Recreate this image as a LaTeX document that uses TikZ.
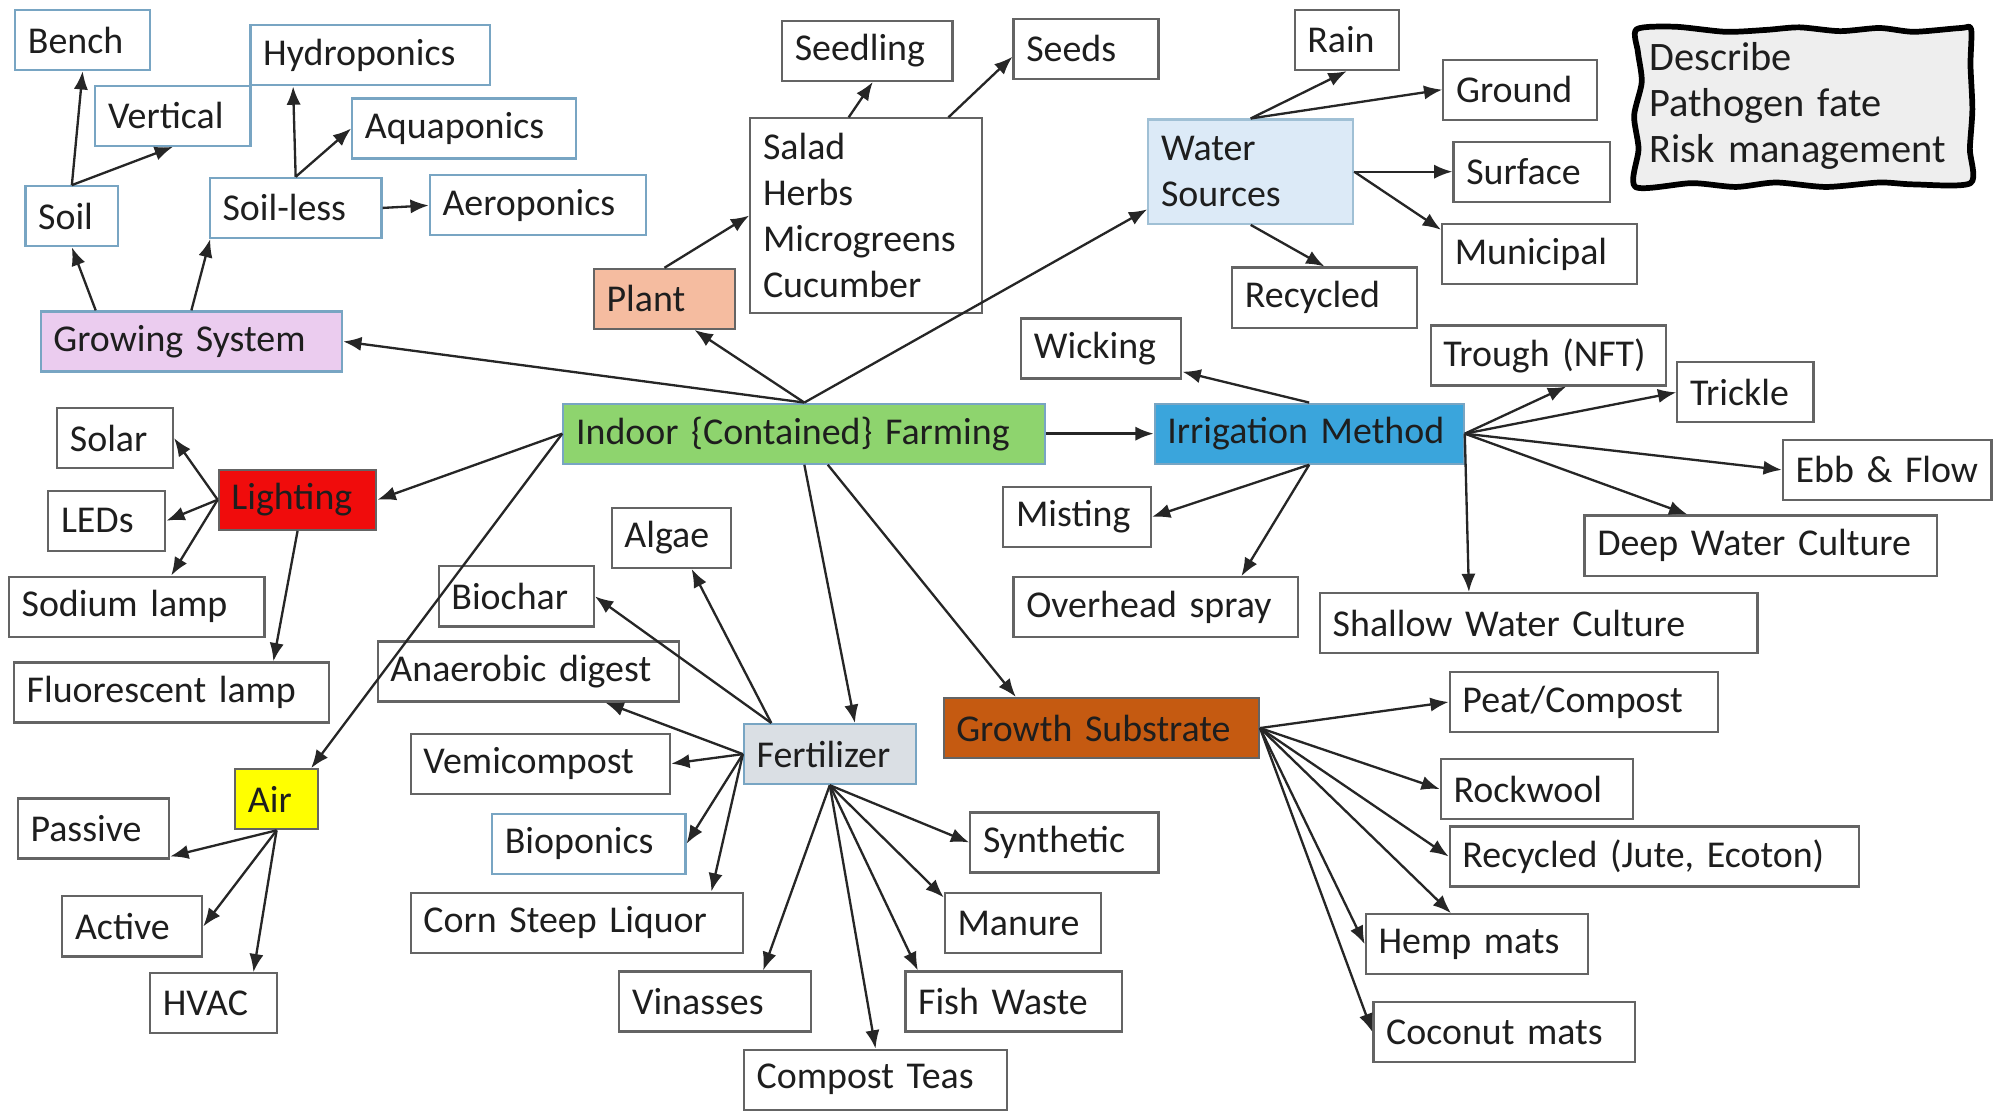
\documentclass[tikz,border=0pt]{standalone}
\usepackage{fontspec}
\setmainfont{Carlito}
\usepackage{tikz}
\usetikzlibrary{arrows.meta,backgrounds}
\definecolor{indoorGreen}{RGB}{142,212,110}
\definecolor{irrigBlue}{RGB}{58,165,220}
\definecolor{growPink}{RGB}{235,204,239}
\definecolor{plantSalmon}{RGB}{245,188,160}
\definecolor{waterBlue}{RGB}{220,234,247}
\definecolor{lightRed}{RGB}{240,12,12}
\definecolor{airYellow}{RGB}{255,255,0}
\definecolor{fertGray}{RGB}{218,223,228}
\definecolor{substrateBrown}{RGB}{197,90,17}
\definecolor{descGray}{RGB}{238,238,238}
\definecolor{edgeGray}{RGB}{100,100,100}
\definecolor{edgeBlue}{RGB}{120,165,195}
\definecolor{textDark}{RGB}{30,30,30}

\begin{document}
\begin{tikzpicture}[x=0.125mm, y=-0.125mm, font=\fontsize{10.6}{12.9}\selectfont, text=textDark,
  bx/.style={draw=edgeGray, line width=0.6pt, fill=white, minimum height=5.9mm, inner xsep=1.25mm, inner ysep=0.3mm, align=left, text width=#1*0.125mm-2.5mm},
  bbx/.style={bx=#1, draw=edgeBlue},
  arr/.style={-{Latex[length=1.8mm,width=1.4mm]}, line width=0.65pt, black!85}]

\useasboundingbox (0,0) rectangle (1568,874);

\node[bbx=106] (bench) at (65,31.5) {Bench};
\node[bbx=188] (hydro) at (291,43.5) {Hydroponics};
\node[bbx=122] (vert) at (136,91) {Vertical};
\node[bbx=176] (aqua) at (365,101) {Aquaponics};
\node[bbx=73] (soil) at (56.5,170) {Soil};
\node[bbx=135] (soilless) at (232.5,163.5) {Soil-less};
\node[bbx=170] (aero) at (423,161.5) {Aeroponics};
\node[bbx=237, fill=growPink] (growsys) at (150.5,268.5) {Growing System};

\node[bx=111, fill=plantSalmon] (plant) at (522.5,235) {Plant};
\node[bx=182, minimum height=19.1mm] (crops) at (681,169.5) {Salad\\Herbs\\Microgreens\\Cucumber};
\node[bx=134] (seedling) at (682,40) {Seedling};
\node[bx=114] (seeds) at (854,38.5) {Seeds};

\node[bx=161, minimum height=10.25mm, fill=waterBlue, draw=edgeBlue!70] (water) at (983.5,135) {Water\\Sources};
\node[bx=82] (rain) at (1059,31.5) {Rain};
\node[bx=121] (ground) at (1195.5,70.5) {Ground};
\node[bx=123] (surface) at (1204.5,135) {Surface};
\node[bx=153] (municipal) at (1210.5,200) {Municipal};
\node[bx=145] (recyc) at (1041.5,234) {Recycled};

\node[bx=261, minimum height=15.4mm, draw=none, fill=none, font=\fontsize{11.3}{12.9}\selectfont] (describe) at (1417.5,83.5) {Describe\\Pathogen fate\\Risk management};
\begin{scope}[on background layer]
\draw[line width=1.6pt, fill=descGray, line join=round] plot[smooth cycle, tension=0.45] coordinates {(1287,23) (1317,21) (1357,25) (1389,23.5) (1415,21.5) (1447,24.5) (1478,22) (1505,25) (1542,22) (1550,23) (1549.5,51) (1551,86) (1549,117) (1549.5,144) (1505,145) (1478,143.5) (1436,147) (1396.5,143.5) (1365,147) (1330.5,144) (1286,147) (1288.5,117) (1285,91) (1291,64.5) (1288,41)};
\end{scope}

\node[bx=379, fill=indoorGreen, draw=edgeBlue] (indoor) at (632.5,341) {Indoor \{Contained\} Farming};
\node[bx=243, fill=irrigBlue, draw=edgeBlue] (irrig) at (1029.5,341) {Irrigation Method};
\node[bx=126] (wicking) at (866,274) {Wicking};
\node[bx=185] (trough) at (1217.5,279.5) {Trough (NFT)};
\node[bx=107] (trickle) at (1372.5,308.5) {Trickle};
\node[bx=164] (ebb) at (1484,369.5) {Ebb \& Flow};
\node[bx=277] (deep) at (1384.5,429) {Deep Water Culture};
\node[bx=344] (shallow) at (1210,490) {Shallow Water Culture};
\node[bx=116] (misting) at (847,406.5) {Misting};
\node[bx=224] (overhead) at (909,477.5) {Overhead spray};

\node[bx=91] (solar) at (90.5,344.5) {Solar};
\node[bx=124, fill=lightRed] (lighting) at (234,393) {Lighting};
\node[bx=92] (leds) at (84,409.5) {LEDs};
\node[bx=201] (sodium) at (107.5,477) {Sodium lamp};
\node[bx=248] (fluor) at (135,544.5) {Fluorescent lamp};
\node[bx=65, fill=airYellow] (air) at (217.5,628.5) {Air};
\node[bx=119] (passive) at (73.5,651.5) {Passive};
\node[bx=110] (active) at (104,728.5) {Active};
\node[bx=100] (hvac) at (168,789) {HVAC};

\node[bx=94] (algae) at (528,423) {Algae};
\node[bx=122] (biochar) at (406,469) {Biochar};
\node[bx=237] (anaer) at (415.5,528) {Anaerobic digest};
\node[bx=204] (vemi) at (425,600.5) {Vemicompost};
\node[bx=135, fill=fertGray, draw=edgeBlue] (fert) at (652.5,593) {Fertilizer};
\node[bbx=152] (biop) at (463,663.5) {Bioponics};
\node[bx=261] (corn) at (453.5,725.5) {Corn Steep Liquor};
\node[bx=148] (synth) at (837,662.5) {Synthetic};
\node[bx=123] (manure) at (804.5,726) {Manure};
\node[bx=151] (vinasses) at (562.5,787.5) {Vinasses};
\node[bx=170] (fish) at (797,787.5) {Fish Waste};
\node[bx=207] (teas) at (688.5,849) {Compost Teas};

\node[bx=248, fill=substrateBrown] (growth) at (866,572.5) {Growth Substrate};
\node[bx=211] (peat) at (1245.5,552) {Peat/Compost};
\node[bx=151] (rock) at (1208.5,620.5) {Rockwool};
\node[bx=322] (recjute) at (1301,673.5) {Recycled (Jute, Ecoton)};
\node[bx=175] (hemp) at (1161.5,742.5) {Hemp mats};
\node[bx=206] (coconut) at (1183,811.5) {Coconut mats};

\draw[arr] (indoor.north) -- (growsys.east);
\draw[arr] (indoor.north) -- (plant.-46);
\draw[arr] (indoor.north) -- (water.200);
\draw[arr] (indoor.east) -- (irrig.west);
\draw[arr] (indoor.west) -- (lighting.east);
\draw[arr] (indoor.west) -- (air.42);
\draw[arr] (indoor.south) -- (fert.51);
\draw[arr] (indoor.-53) -- (growth.160);

\draw[arr] (growsys.162) -- (soil.south);
\draw[arr] (growsys.north) -- (soilless.200);
\draw[arr] (soil.north) -- (bench.south);
\draw[arr] (soil.north) -- (vert.south);
\draw[arr] (soilless.north) -- (hydro.202);
\draw[arr] (soilless.north) -- (aqua.west);
\draw[arr] (soilless.east) -- (aero.west);

\draw[arr] (plant.north) -- (crops.west);
\draw[arr] (crops.100) -- (seedling.-80);
\draw[arr] (crops.50) -- (seeds.186);

\draw[arr] (water.north) -- (rain.south);
\draw[arr] (water.north) -- (ground.west);
\draw[arr] (water.east) -- (surface.west);
\draw[arr] (water.east) -- (municipal.166);
\draw[arr] (water.south) -- (recyc.north);

\draw[arr] (irrig.north) -- (wicking.-16);
\draw[arr] (irrig.east) -- (trough.-60);
\draw[arr] (irrig.east) -- (trickle.west);
\draw[arr] (irrig.east) -- (ebb.west);
\draw[arr] (irrig.east) -- (deep.157);
\draw[arr] (irrig.east) -- (shallow.156);
\draw[arr] (irrig.south) -- (misting.east);
\draw[arr] (irrig.south) -- (overhead.20);

\draw[arr] (lighting.west) -- (solar.east);
\draw[arr] (lighting.west) -- (leds.east);
\draw[arr] (lighting.west) -- (sodium.42);
\draw[arr] (lighting.south) -- (fluor.17);
\draw[arr] (air.south) -- (passive.-20);
\draw[arr] (air.south) -- (active.east);
\draw[arr] (air.south) -- (hvac.38);

\draw[arr] (fert.152) -- (algae.-57);
\draw[arr] (fert.152) -- (biochar.east);
\draw[arr] (fert.west) -- (anaer.-22);
\draw[arr] (fert.west) -- (vemi.east);
\draw[arr] (fert.west) -- (biop.east);
\draw[arr] (fert.west) -- (corn.13);
\draw[arr] (fert.south) -- (synth.west);
\draw[arr] (fert.south) -- (manure.162);
\draw[arr] (fert.south) -- (fish.162);
\draw[arr] (fert.south) -- (teas.north);
\draw[arr] (fert.south) -- (vinasses.33);

\draw[arr] (growth.east) -- (peat.west);
\draw[arr] (growth.east) -- (rock.west);
\draw[arr] (growth.east) -- (recjute.west);
\draw[arr] (growth.east) -- (hemp.130);
\draw[arr] (growth.east) -- (hemp.west);
\draw[arr] (growth.east) -- (coconut.west);
\end{tikzpicture}
\end{document}
